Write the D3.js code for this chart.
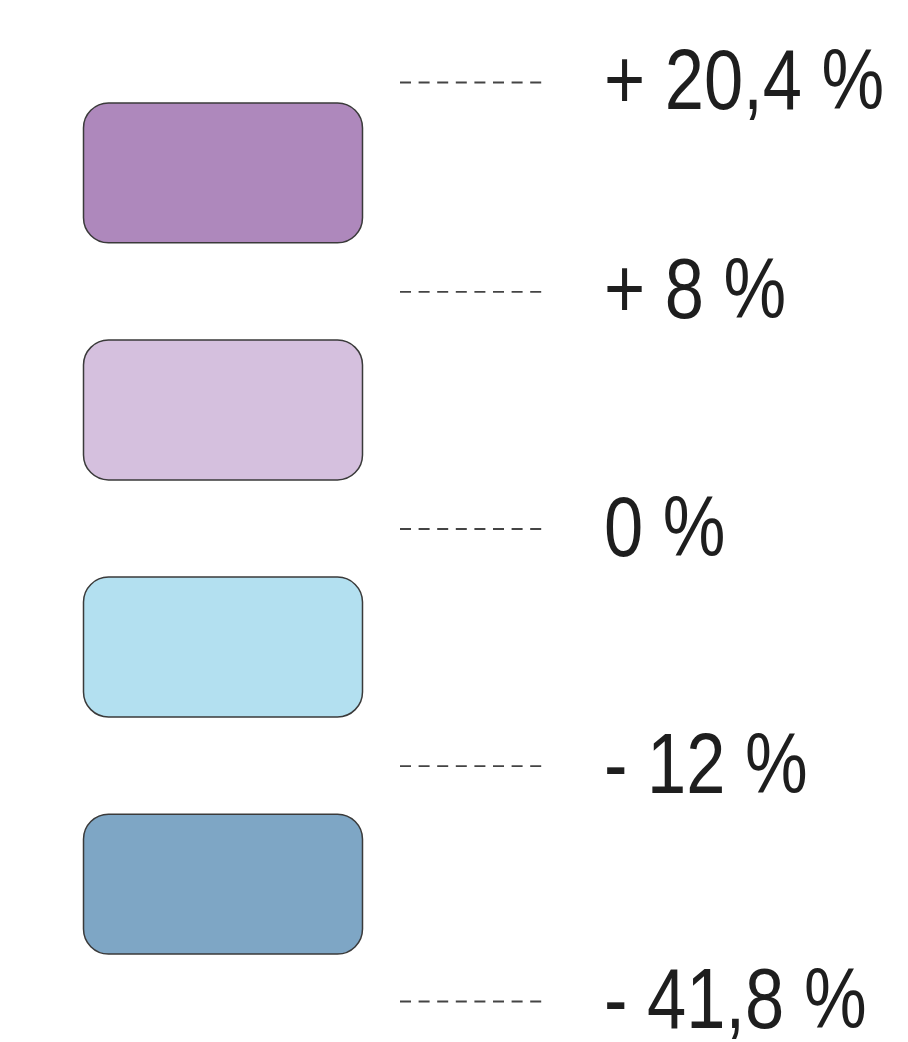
<!DOCTYPE html>
<html>
<head>
<meta charset="utf-8">
<script src="https://cdn.jsdelivr.net/npm/d3@7"></script>
<style>
  html, body { margin: 0; padding: 0; background: #ffffff; }
  svg { display: block; }
</style>
</head>
<body>
<div id="chart"></div>
<script>
// Legend classes (top to bottom)
const classes = ["c1", "c2", "c3", "c4"];
const classColors = ["#ae88bc", "#d5c0de", "#b3e0f0", "#7ea6c5"];
// Threshold tick labels (top to bottom)
const thresholdLabels = ["+ 20,4 %", "+ 8 %", "0 %", "- 12 %", "- 41,8 %"];
const thresholdValues = [20.4, 8, 0, -12, -41.8];

const W = 908, H = 1042;
const svg = d3.select("#chart").append("svg")
  .attr("width", W).attr("height", H);

const y = d3.scaleBand()
  .domain(classes)
  .range([103, 954])
  .paddingInner(0.41)
  .paddingOuter(0);

const bw = y.bandwidth();
const gap = y.step() - bw;

// boxes
svg.append("g").selectAll("rect")
  .data(classes)
  .join("rect")
  .attr("x", 83.5)
  .attr("y", d => y(d))
  .attr("width", 279)
  .attr("height", bw)
  .attr("rx", 25).attr("ry", 25)
  .attr("fill", (d, i) => classColors[i])
  .attr("stroke", "#3a3a3a")
  .attr("stroke-width", 1.5);

// threshold positions
function lineY(i) {
  if (i === 0) return y(classes[0]) - 21;
  if (i === classes.length) return y(classes[classes.length - 1]) + bw + 47;
  return y(classes[i]) - gap / 2;
}

const th = svg.append("g").selectAll("g")
  .data(thresholdLabels)
  .join("g")
  .attr("transform", (d, i) => `translate(0,${lineY(i)})`);

th.append("line")
  .attr("x1", 400).attr("x2", 543)
  .attr("y1", 0.5).attr("y2", 0.5)
  .attr("stroke", "#444")
  .attr("stroke-width", 1.8)
  .attr("stroke-dasharray", "11 7.6");

th.append("text")
  .attr("transform", "translate(604,27) scale(0.82,1)")
  .attr("font-family", "'Liberation Sans Narrow', 'Arial Narrow', 'Liberation Sans', sans-serif")
  .attr("font-size", 86)
  .attr("fill", "#1e1e1e")
  .text(d => d);
</script>
</body>
</html>
